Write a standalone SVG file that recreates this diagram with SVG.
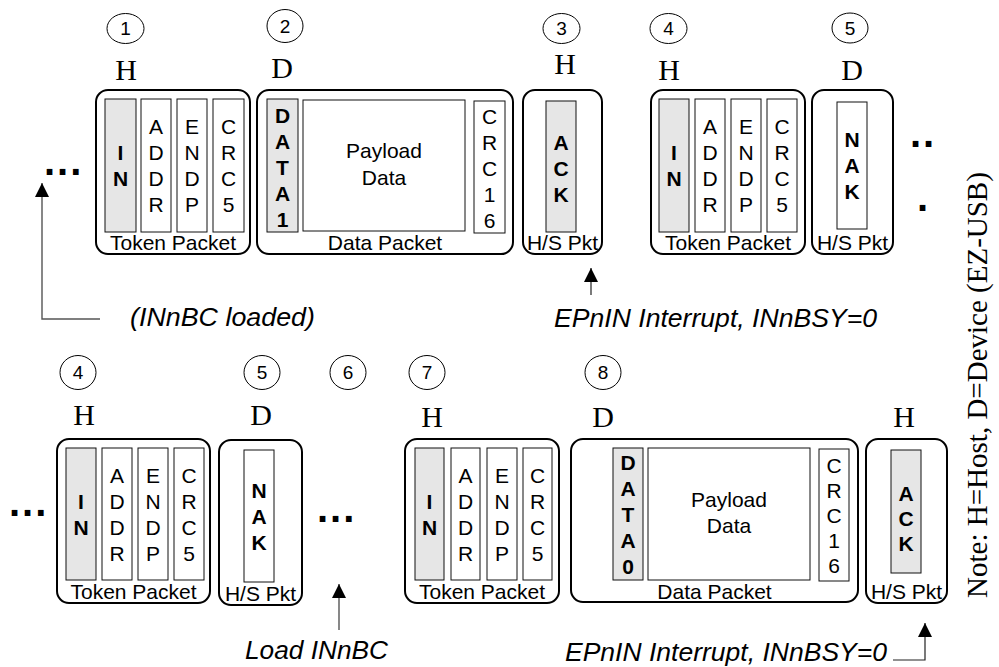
<svg xmlns="http://www.w3.org/2000/svg" width="999" height="667" viewBox="0 0 999 667">
<defs>
<style>
.ob{fill:#fff;stroke:#000;stroke-width:2}
.f{fill:#fff;stroke:#111;stroke-width:1}
.g{fill:#e6e6e6;stroke:#111;stroke-width:1}
.t{font-family:"Liberation Sans",Arial,sans-serif;font-size:21px;text-anchor:middle;fill:#000}
.b{font-weight:bold}
.hd{font-family:"Liberation Serif","Times New Roman",serif;font-size:30px;text-anchor:middle;fill:#000}
.num{font-family:"Liberation Sans",Arial,sans-serif;font-size:19px;text-anchor:middle}
.cir{fill:none;stroke:#000;stroke-width:1}
.it{font-family:"Liberation Sans",Arial,sans-serif;font-size:25px;font-style:italic;fill:#000}
.dots{font-family:"Liberation Sans",Arial,sans-serif;font-size:40px;font-weight:bold;letter-spacing:2px}
.note{font-family:"Liberation Serif","Times New Roman",serif;font-size:29px;text-anchor:middle}
.ln{fill:none;stroke:#555;stroke-width:1.4}
.lk{fill:none;stroke:#222;stroke-width:1.2}
</style>
<marker id="ah" markerUnits="userSpaceOnUse" markerWidth="16" markerHeight="16" refX="14" refY="7" orient="auto">
<path d="M0,0 L14,7 L0,14 z" fill="#000"/>
</marker>
</defs>
<rect width="999" height="667" fill="#fff"/>

<g id="steps">
<ellipse class="cir" cx="125.5" cy="28.5" rx="18.5" ry="15"/><text class="num" x="125.5" y="35">1</text>
<ellipse class="cir" cx="285" cy="26" rx="18" ry="16.5"/><text class="num" x="285" y="32.5">2</text>
<ellipse class="cir" cx="561.5" cy="28.5" rx="18.5" ry="15"/><text class="num" x="561.5" y="35">3</text>
<ellipse class="cir" cx="668.5" cy="28.5" rx="18.5" ry="15"/><text class="num" x="668.5" y="35">4</text>
<ellipse class="cir" cx="850" cy="28" rx="18" ry="15"/><text class="num" x="850" y="34.5">5</text>
<ellipse class="cir" cx="78" cy="372.5" rx="18" ry="17"/><text class="num" x="78" y="379">4</text>
<ellipse class="cir" cx="262" cy="372.5" rx="18" ry="17"/><text class="num" x="262" y="379">5</text>
<ellipse class="cir" cx="348" cy="372.5" rx="18" ry="17"/><text class="num" x="348" y="379">6</text>
<ellipse class="cir" cx="427" cy="372.5" rx="18" ry="17"/><text class="num" x="427" y="379">7</text>
<ellipse class="cir" cx="603" cy="372.5" rx="18" ry="17"/><text class="num" x="603" y="379">8</text>
</g>

<g id="senders">
<text class="hd" x="126" y="80">H</text>
<text class="hd" x="282" y="78">D</text>
<text class="hd" x="565" y="74">H</text>
<text class="hd" x="669" y="80">H</text>
<text class="hd" x="852" y="80">D</text>
<text class="hd" x="84" y="425">H</text>
<text class="hd" x="261" y="425">D</text>
<text class="hd" x="432" y="427">H</text>
<text class="hd" x="603" y="427">D</text>
<text class="hd" x="904" y="427">H</text>
</g>

<g id="token1">
<rect class="ob" x="96" y="90" width="154" height="164" rx="12"/>
<rect class="g" x="105" y="99" width="31" height="133"/>
<rect class="f" x="141" y="99" width="30" height="133"/>
<rect class="f" x="177" y="99" width="30" height="133"/>
<rect class="f" x="213" y="99" width="31" height="133"/>
<text class="t b"><tspan x="120.5" y="160">I</tspan><tspan x="120.5" y="186">N</tspan></text>
<text class="t"><tspan x="156" y="134">A</tspan><tspan x="156" y="160">D</tspan><tspan x="156" y="186">D</tspan><tspan x="156" y="212">R</tspan></text>
<text class="t"><tspan x="192" y="134">E</tspan><tspan x="192" y="160">N</tspan><tspan x="192" y="186">D</tspan><tspan x="192" y="212">P</tspan></text>
<text class="t"><tspan x="228.5" y="134">C</tspan><tspan x="228.5" y="160">R</tspan><tspan x="228.5" y="186">C</tspan><tspan x="228.5" y="212">5</tspan></text>
<text class="t" x="173" y="250">Token Packet</text>
</g>

<g id="data1">
<rect class="ob" x="257" y="90" width="256" height="164" rx="12"/>
<rect class="g" x="267" y="99" width="31" height="133"/>
<rect class="f" x="303" y="100" width="162" height="131"/>
<rect class="f" x="474" y="101" width="31" height="132"/>
<text class="t b"><tspan x="282.5" y="122.5">D</tspan><tspan x="282.5" y="148.5">A</tspan><tspan x="282.5" y="174.5">T</tspan><tspan x="282.5" y="200.5">A</tspan><tspan x="282.5" y="226.5">1</tspan></text>
<text class="t"><tspan x="384" y="158">Payload</tspan><tspan x="384" y="185">Data</tspan></text>
<text class="t"><tspan x="489.5" y="123.5">C</tspan><tspan x="489.5" y="149.5">R</tspan><tspan x="489.5" y="175.5">C</tspan><tspan x="489.5" y="201.5">1</tspan><tspan x="489.5" y="227.5">6</tspan></text>
<text class="t" x="385" y="250">Data Packet</text>
</g>

<g id="ack1">
<rect class="ob" x="523" y="90" width="79" height="164" rx="12"/>
<rect class="g" x="546" y="101" width="30" height="131"/>
<text class="t b"><tspan x="561" y="149.5">A</tspan><tspan x="561" y="175.5">C</tspan><tspan x="561" y="201.5">K</tspan></text>
<text class="t" x="562.5" y="250">H/S Pkt</text>
</g>

<g id="token2">
<rect class="ob" x="651" y="90" width="154" height="164" rx="12"/>
<rect class="g" x="659" y="99" width="30" height="133"/>
<rect class="f" x="695" y="99" width="30" height="133"/>
<rect class="f" x="731" y="99" width="30" height="133"/>
<rect class="f" x="767" y="99" width="30" height="133"/>
<text class="t b"><tspan x="674" y="160">I</tspan><tspan x="674" y="186">N</tspan></text>
<text class="t"><tspan x="710" y="134">A</tspan><tspan x="710" y="160">D</tspan><tspan x="710" y="186">D</tspan><tspan x="710" y="212">R</tspan></text>
<text class="t"><tspan x="746" y="134">E</tspan><tspan x="746" y="160">N</tspan><tspan x="746" y="186">D</tspan><tspan x="746" y="212">P</tspan></text>
<text class="t"><tspan x="782" y="134">C</tspan><tspan x="782" y="160">R</tspan><tspan x="782" y="186">C</tspan><tspan x="782" y="212">5</tspan></text>
<text class="t" x="728" y="250">Token Packet</text>
</g>

<g id="nak1">
<rect class="ob" x="812" y="90" width="81" height="164" rx="12"/>
<rect class="f" x="837" y="102" width="30" height="127"/>
<text class="t b"><tspan x="852" y="147">N</tspan><tspan x="852" y="173">A</tspan><tspan x="852" y="199">K</tspan></text>
<text class="t" x="852.5" y="250">H/S Pkt</text>
</g>

<g id="token3">
<rect class="ob" x="57" y="439" width="153" height="164" rx="12"/>
<rect class="g" x="66" y="448" width="30" height="132"/>
<rect class="f" x="102" y="448" width="30" height="132"/>
<rect class="f" x="138" y="448" width="30" height="132"/>
<rect class="f" x="174" y="448" width="30" height="132"/>
<text class="t b"><tspan x="81" y="508.5">I</tspan><tspan x="81" y="534.5">N</tspan></text>
<text class="t"><tspan x="117" y="482.5">A</tspan><tspan x="117" y="508.5">D</tspan><tspan x="117" y="534.5">D</tspan><tspan x="117" y="560.5">R</tspan></text>
<text class="t"><tspan x="153" y="482.5">E</tspan><tspan x="153" y="508.5">N</tspan><tspan x="153" y="534.5">D</tspan><tspan x="153" y="560.5">P</tspan></text>
<text class="t"><tspan x="189" y="482.5">C</tspan><tspan x="189" y="508.5">R</tspan><tspan x="189" y="534.5">C</tspan><tspan x="189" y="560.5">5</tspan></text>
<text class="t" x="133.5" y="599">Token Packet</text>
</g>

<g id="nak2">
<rect class="ob" x="219" y="440" width="83" height="165" rx="12"/>
<rect class="f" x="244" y="450" width="30" height="132"/>
<text class="t b"><tspan x="259" y="497.5">N</tspan><tspan x="259" y="523.5">A</tspan><tspan x="259" y="549.5">K</tspan></text>
<text class="t" x="260.5" y="601">H/S Pkt</text>
</g>

<g id="token4">
<rect class="ob" x="405" y="439" width="154" height="164" rx="12"/>
<rect class="g" x="415" y="448" width="29" height="132"/>
<rect class="f" x="451" y="448" width="29" height="132"/>
<rect class="f" x="487" y="448" width="30" height="132"/>
<rect class="f" x="523" y="448" width="29" height="132"/>
<text class="t b"><tspan x="429.5" y="508.5">I</tspan><tspan x="429.5" y="534.5">N</tspan></text>
<text class="t"><tspan x="465.5" y="482.5">A</tspan><tspan x="465.5" y="508.5">D</tspan><tspan x="465.5" y="534.5">D</tspan><tspan x="465.5" y="560.5">R</tspan></text>
<text class="t"><tspan x="502" y="482.5">E</tspan><tspan x="502" y="508.5">N</tspan><tspan x="502" y="534.5">D</tspan><tspan x="502" y="560.5">P</tspan></text>
<text class="t"><tspan x="537.5" y="482.5">C</tspan><tspan x="537.5" y="508.5">R</tspan><tspan x="537.5" y="534.5">C</tspan><tspan x="537.5" y="560.5">5</tspan></text>
<text class="t" x="482" y="599">Token Packet</text>
</g>

<g id="data2">
<rect class="ob" x="571" y="439" width="287" height="163" rx="12"/>
<rect class="g" x="613" y="448" width="30" height="132"/>
<rect class="f" x="648" y="448" width="162" height="132"/>
<rect class="f" x="819" y="449" width="30" height="132"/>
<text class="t b"><tspan x="628" y="469.5">D</tspan><tspan x="628" y="495.5">A</tspan><tspan x="628" y="521.5">T</tspan><tspan x="628" y="547.5">A</tspan><tspan x="628" y="573.5">0</tspan></text>
<text class="t"><tspan x="729" y="507">Payload</tspan><tspan x="729" y="533">Data</tspan></text>
<text class="t"><tspan x="834" y="472.5">C</tspan><tspan x="834" y="497.5">R</tspan><tspan x="834" y="522.5">C</tspan><tspan x="834" y="547.5">1</tspan><tspan x="834" y="572.5">6</tspan></text>
<text class="t" x="714.5" y="599">Data Packet</text>
</g>

<g id="ack2">
<rect class="ob" x="866" y="439" width="81" height="164" rx="12"/>
<rect class="g" x="891" y="450" width="30" height="123"/>
<text class="t b"><tspan x="906" y="500.5">A</tspan><tspan x="906" y="525.5">C</tspan><tspan x="906" y="550.5">K</tspan></text>
<text class="t" x="906.5" y="599">H/S Pkt</text>
</g>

<g id="ellipses">
<text class="dots" x="44" y="175">...</text>
<text class="dots" x="910" y="147">..</text>
<text class="dots" x="917" y="211">.</text>
<text class="dots" x="9" y="516">...</text>
<text class="dots" x="317" y="522">...</text>
</g>

<g id="connectors">
<polyline class="ln" points="100,319 42,319 42,183" marker-end="url(#ah)"/>
<line class="lk" x1="591" y1="295" x2="591" y2="268" marker-end="url(#ah)"/>
<line class="ln" x1="339" y1="630" x2="339" y2="584" marker-end="url(#ah)"/>
<polyline class="lk" points="893,660 925,660 925,623" marker-end="url(#ah)"/>
</g>

<g id="labels">
<text class="it" x="130" y="326" textLength="185" lengthAdjust="spacingAndGlyphs">(INnBC loaded)</text>
<text class="it" x="554" y="327" textLength="323" lengthAdjust="spacingAndGlyphs">EPnIN Interrupt, INnBSY=0</text>
<text class="it" x="245" y="659" textLength="143" lengthAdjust="spacingAndGlyphs">Load INnBC</text>
<text class="it" x="565" y="661" textLength="322" lengthAdjust="spacingAndGlyphs">EPnIN Interrupt, INnBSY=0</text>
<text class="note" transform="translate(987,385) rotate(-90)">Note: H=Host, D=Device (EZ-USB)</text>
</g>
</svg>
